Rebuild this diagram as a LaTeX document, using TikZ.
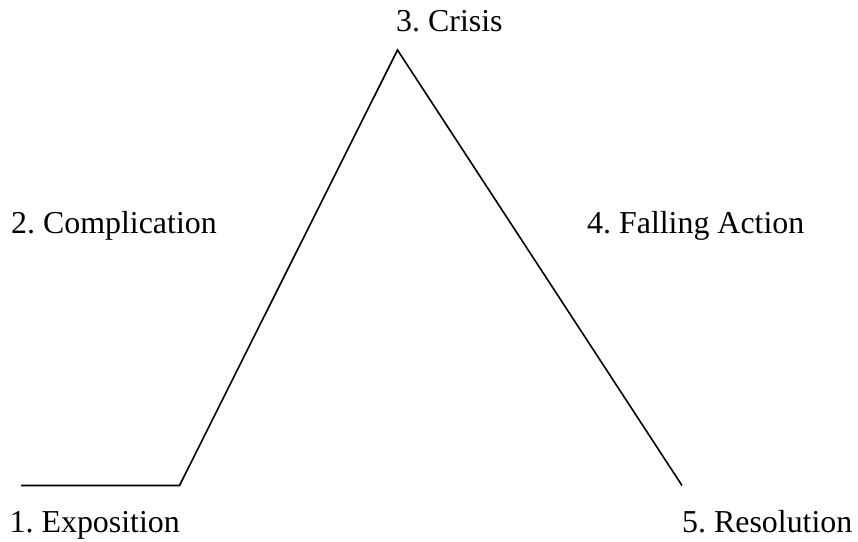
\documentclass[tikz,border=0pt]{standalone}
\usepackage{fontspec}
\setmainfont{Liberation Serif}
\frenchspacing
\begin{document}
\begin{tikzpicture}[x=1pt,y=-1pt,
  stagelabel/.style={anchor=base west,inner sep=0pt,font=\fontsize{31.9}{36}\selectfont},
  plotline/.style={line width=1.6pt,line join=miter}]
\useasboundingbox (0,0) rectangle (858,541);
% plot line of the story arc
\coordinate (start) at (21,485.5);
\coordinate (rise) at (179.5,485.5);
\coordinate (peak) at (397.5,50);
\coordinate (stop) at (682,485.5);
\draw[plotline] (start) -- (rise) -- (peak) -- (stop);
% stage labels
\node[stagelabel] (crisis) at (396,31) {3. Crisis};
\node[stagelabel] (complication) at (11,233) {2. Complication};
\node[stagelabel] (falling) at (587,233) {4. Falling Action};
\node[stagelabel] (exposition) at (9.5,532.5) {1. Exposition};
\node[stagelabel] (resolution) at (682,532.5) {5. Resolution};
\end{tikzpicture}
\end{document}
